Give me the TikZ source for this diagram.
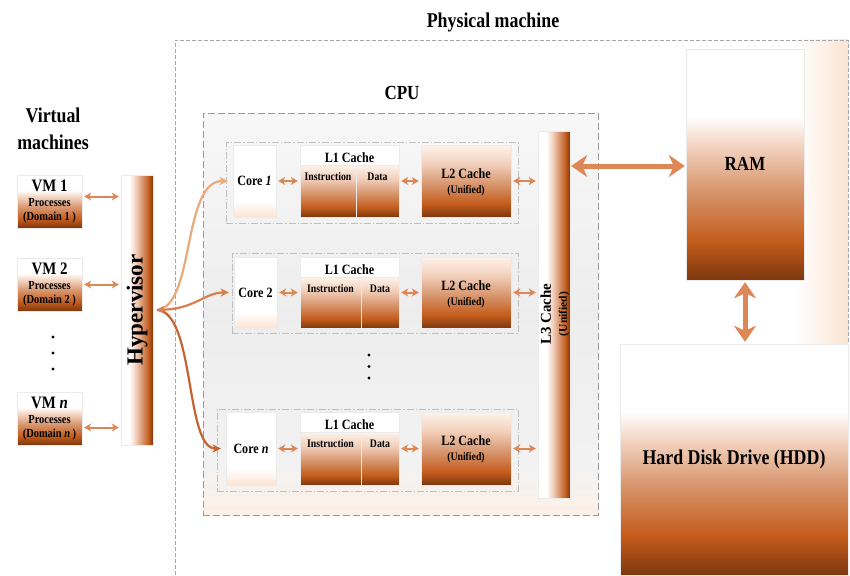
\documentclass[tikz,border=0pt]{standalone}
\usepackage{fontspec}
\setmainfont{Liberation Serif}[FakeStretch=0.85]
\newfontfamily\rotfont{Liberation Serif}
\usetikzlibrary{arrows.meta,fit}
\definecolor{dk}{RGB}{125,55,15}
\definecolor{orr}{RGB}{196,92,28}
\definecolor{tan}{RGB}{215,150,110}
\definecolor{pe}{RGB}{242,208,188}
\definecolor{pch}{RGB}{251,228,210}
\definecolor{arrc}{RGB}{220,135,85}
\definecolor{cA}{RGB}{234,170,125}
\definecolor{cB}{RGB}{218,128,78}
\definecolor{cC}{RGB}{196,100,50}
\pgfdeclareverticalshading{boxsh}{100bp}{color(0bp)=(dk); color(25bp)=(dk); color(33.5bp)=(orr); color(44.5bp)=(tan); color(53.5bp)=(pe); color(60.5bp)=(white); color(100bp)=(white)}
\pgfdeclareverticalshading{lsh}{100bp}{color(0bp)=(dk); color(25bp)=(dk); color(34bp)=(orr); color(48bp)=(tan); color(62bp)=(pe); color(75bp)=(pch!45!white); color(100bp)=(pch!45!white)}
\pgfdeclareverticalshading{coresh}{100bp}{color(0bp)=(pch); color(25bp)=(pch); color(36bp)=(white); color(100bp)=(white)}
\pgfdeclarehorizontalshading{barsh}{100bp}{color(0bp)=(white); color(25bp)=(white); color(38bp)=(white); color(48bp)=(pe); color(58bp)=(tan); color(68bp)=(orr); color(75bp)=(dk); color(100bp)=(dk)}
\pgfdeclareverticalshading{cpush}{100bp}{color(0bp)=(pch!55!white); color(25bp)=(pch!55!white); color(31bp)=(black!5); color(50bp)=(black!7); color(75bp)=(black!3); color(100bp)=(black!3)}
\pgfdeclarehorizontalshading{physh}{100bp}{color(0bp)=(white); color(71bp)=(white); color(75bp)=(pch); color(100bp)=(pch)}
\newcommand\fz[2]{\fontsize{#1}{#2}\selectfont\bfseries}
\begin{document}
\begin{tikzpicture}[x=1pt,y=-1pt,
  box/.style={inner sep=0pt, draw=black!8, line width=0.4pt},
  vmbox/.style={box, shading=boxsh},
  barbox/.style={box, shading=barsh},
  corebox/.style={box, shading=coresh},
  l1sh/.style={box, shading=lsh},
  l2box/.style={box, shading=lsh},
  rowbox/.style={inner sep=0pt, draw=black!25, line width=0.8pt, dash pattern=on 7pt off 2pt on 1.5pt off 2pt},
  arr/.style={{Stealth[length=7pt,width=8pt,inset=2pt]}-{Stealth[length=7pt,width=8pt,inset=2pt]}, line width=2pt, draw=arrc, shorten <=2pt, shorten >=2pt},
  bigarr/.style={{Stealth[length=16pt,width=22pt,inset=5pt]}-{Stealth[length=16pt,width=22pt,inset=5pt]}, line width=5pt, draw=arrc},
  crv/.style={-{Stealth[length=8pt,width=8pt,inset=2pt]}, line width=2.2pt, shorten >=5pt},
  t21/.style={font=\fz{21}{24}},
  t14/.style={font=\fz{14.2}{16}},
  t12/.style={font=\fz{11.5}{13}},
]
\useasboundingbox (0,0) rectangle (850,575);
\fill[white] (0,0) rectangle (850,575);
% physical machine
\shade[shading=physh] (175,40) rectangle (848,575);
\draw[black!35, line width=0.8pt, dash pattern=on 4pt off 2pt] (175,575) -- (175,40) -- (848,40) -- (848,575);
\node[t21] (phy) at (493,22) {Physical machine};
% virtual machines
\node[t21, align=center, font=\fz{21}{27}] (vmt) at (53,129) {Virtual\\machines};
\foreach \v/\y/\lab/\dom in {1/201.5/1/1, 2/284.5/2/2, n/418.5/\textit{n}/\textit{n}} {
  \node[vmbox, minimum width=65pt, minimum height=53pt, align=center, font=\fz{12.3}{14}] (vm\v) at (49.5,\y)
    {{\fz{17.5}{18}VM \lab}\\[1pt]Processes\\(Domain \dom\ )};
}
\fill (53,337) circle (1.6) (53,353) circle (1.6) (53,369) circle (1.6);
% hypervisor
\node[barbox, minimum width=32pt, minimum height=270pt] (hyp) at (137,310) {};
\node[rotate=90, font=\rotfont\fontsize{23}{25}\selectfont\bfseries] (hypt) at (137,310) {Hypervisor};
\draw[arr] ([yshift=5pt]vm1.east) -- ([yshift=5pt]vm1.east -| hyp.west);
\draw[arr] (vm2.east) -- (vm2.east -| hyp.west);
\draw[arr] ([yshift=-9pt]vmn.east) -- ([yshift=-9pt]vmn.east -| hyp.west);
% CPU
\node[inner sep=0pt, shading=cpush, draw=black!40, line width=0.9pt, dash pattern=on 7pt off 3pt, minimum width=395pt, minimum height=402pt] (cpu) at (400.5,314) {};
\node[t21, font=\fz{20}{22}] (cput) at (402,93) {CPU};
% L3
\node[barbox, minimum width=32pt, minimum height=367pt] (l3) at (554,314.5) {};
\node[rotate=90, align=center, font=\rotfont\fontsize{15}{16}\selectfont\bfseries] (l3t) at (555,314)
  {L3 Cache\\{\fontsize{11.5}{12}\selectfont (Unified)}};
% rows
\foreach \r/\T/\B/\cl/\cr/\dv/\bl/\bt/\bb/\lab in {
  1/145/217/233/276/356/226/142/223/{Core \textit{1}},
  2/257/328/234/277/361/232/253/333/{Core 2},
  n/412/485/226/276/361/217/409/491/{Core \textit{n}}} {
  \node[rowbox, fit={(\bl,\bt) (518,\bb)}] (row\r) {};
  \node[corebox, fit={(\cl,\T) (\cr,\B)}, t14] (core\r) {};
  \node[t14] (coret\r) at (core\r) {\lab};
  \node[box, fill=white, fit={(300,\T) (399,\B)}] (l1\r) {};
  \node[l1sh, fit={(300,\T+20) (\dv,\B)}] (l1i\r) {};
  \node[l1sh, fit={(\dv,\T+20) (399,\B)}] (l1d\r) {};
  \node[t14] (l1t\r) at (349.5,\T+13) {L1 Cache};
  \node[t12] (l1it\r) at ({(300+\dv)/2},\T+32) {Instruction};
  \node[t12] (l1dt\r) at ({(399+\dv)/2},\T+32) {Data};
  \node[l2box, fit={(421,\T) (511,\B)}] (l2\r) {};
  \node[t14] (l2t\r) at (466,\T+29) {L2 Cache};
  \node[t12] (l2u\r) at (466,\T+46) {(Unified)};
  \draw[arr] (core\r.east) -- (core\r.east -| l1\r.west);
  \draw[arr] (core\r.east -| l1\r.east) -- (core\r.east -| l2\r.west);
  \draw[arr] (core\r.east -| l2\r.east) -- (core\r.east -| l3.west);
}
\fill (369,355) circle (1.6) (369,366.5) circle (1.6) (369,378) circle (1.6);
% hypervisor to cores
\draw[crv, cA] ([xshift=4pt]hyp.east) .. controls (195,306) and (182,181) .. (core1.west);
\draw[crv, cC] ([xshift=4pt]hyp.east) .. controls (195,312) and (185,448.5) .. (coren.west);
\draw[crv, cB, {Stealth[length=8pt,width=8pt,inset=2pt]}-{Stealth[length=8pt,width=8pt,inset=2pt]}, shorten <=3pt] (hyp.east) .. controls (195,309) and (205,292.5) .. (core2.west);
% RAM and HDD
\node[vmbox, minimum width=118pt, minimum height=231pt] (ram) at (745,164.5) {};
\node[t21, font=\fz{20}{22}] (ramt) at (745,164) {RAM};
\node[vmbox, minimum width=228pt, minimum height=231pt] (hdd) at (734,459.5) {};
\node[t21] (hddt) at (734,459) {Hard Disk Drive (HDD)};
\draw[bigarr, shorten <=1pt, shorten >=1pt] (l3.east |- 0,166) -- (ram.west |- 0,166);
\draw[bigarr, shorten <=2pt, shorten >=2pt] (ram.south) -- (ram.south |- hdd.north);
\end{tikzpicture}
\end{document}
